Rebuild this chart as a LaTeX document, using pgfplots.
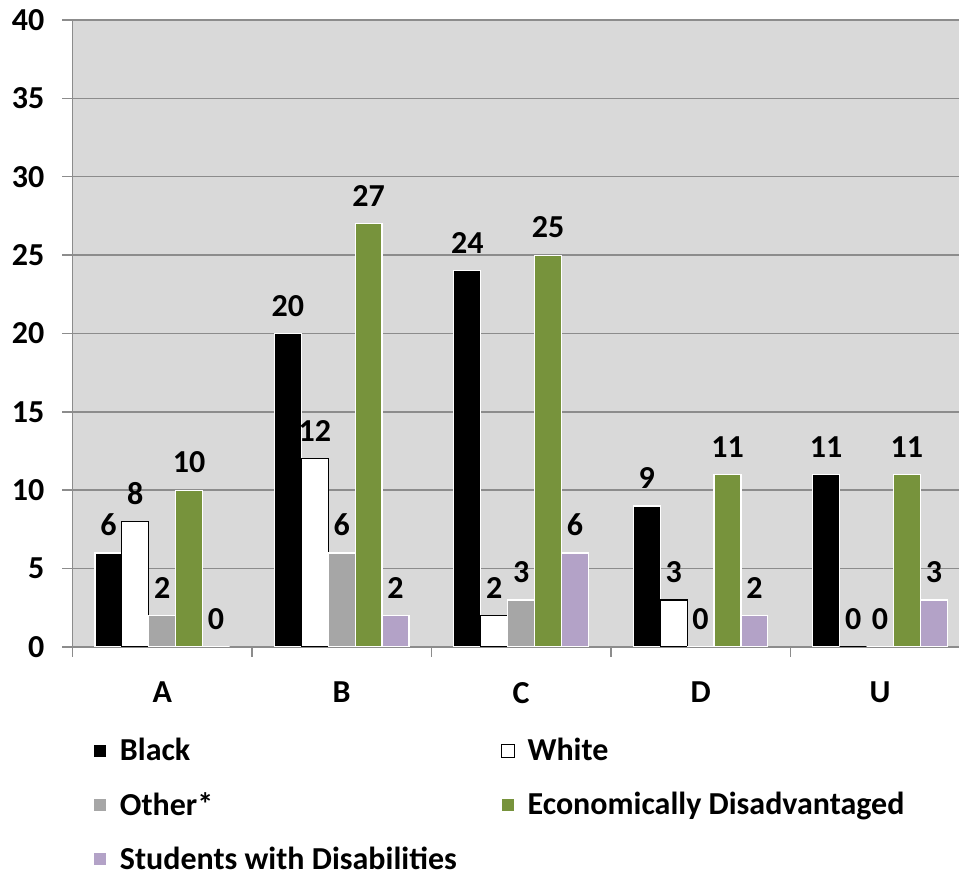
\documentclass[border=0pt]{standalone}
\usepackage{pgfplots}
\pgfplotsset{compat=1.18}
\usepackage{fontspec}
\setmainfont{Carlito}
\definecolor{bgc}{HTML}{D9D9D9}
\definecolor{gridc}{HTML}{8C8C8C}
\definecolor{otherc}{HTML}{A6A6A6}
\definecolor{econc}{HTML}{77933C}
\definecolor{swdc}{HTML}{B3A2C7}
\begin{document}
\begin{tikzpicture}[font=\fontsize{16}{19}\selectfont\bfseries]
\begin{axis}[
  name=ax,
  scale only axis,
  width=443.25pt, height=313.5pt,
  xmin=-0.5, xmax=4.44,
  ymin=0, ymax=40,
  ytick={0,5,...,40},
  axis x line*=bottom, axis y line*=left,
  axis line style={draw=gridc, line width=0.75pt},
  axis background/.style={fill=bgc},
  ymajorgrids,
  major grid style={draw=gridc, line width=0.75pt},
  tick align=outside,
  major tick length=5pt,
  tick style={draw=gridc, line width=0.75pt},
  xtick={-0.5,0.5,1.5,2.5,3.5},
  xticklabels={},
  extra x ticks={0,1,2,3,4},
  extra x tick labels={A,B,C,D,U},
  extra x tick style={major tick length=0pt, tick label style={yshift=-14pt}},
  /pgf/number format/assume math mode=true,
  yticklabel style={font=\fontsize{16}{19}\selectfont\bfseries, xshift=-5.5pt},
  xticklabel style={font=\fontsize{16}{19}\selectfont\bfseries},
  ybar=0pt,
  bar width=0.15,
  nodes near coords,
  every node near coord/.append style={font=\fontsize{16}{19}\selectfont\bfseries, yshift=5pt},
  legend columns=2,
  legend cell align=left,
  legend style={draw=none, fill=none, at={(axis description cs:0.0161,-0.1320)}, anchor=north west,
    font=\fontsize{16}{19}\selectfont\bfseries,
    column sep=0pt,
    /tikz/every odd column/.append style={column sep=4.5pt},
    /tikz/every even column/.append style={column sep=20pt},
    row sep=10.25pt},
  legend image code/.code={\draw[#1, line width=0.4pt] (0pt,-3.25pt) rectangle (6.5pt,3.25pt);},
]
\addplot[fill=black, draw=white, line width=0.6pt] coordinates {(0,6) (1,20) (2,24) (3,9) (4,11)};
\addplot[fill=white, draw=black, line width=0.6pt] coordinates {(0,8) (1,12) (2,2) (3,3) (4,0)};
\addplot[fill=otherc, draw=white, line width=0.6pt] coordinates {(0,2) (1,6) (2,3) (3,0) (4,0)};
\addplot[fill=econc, draw=white, line width=0.6pt] coordinates {(0,10) (1,27) (2,25) (3,11) (4,11)};
\addplot[fill=swdc, draw=white, line width=0.6pt] coordinates {(0,0) (1,2) (2,6) (3,2) (4,3)};
\legend{Black, White, Other*, Economically Disadvantaged, Students with Disabilities}
\end{axis}
\pgfresetboundingbox
\path[use as bounding box] ([xshift=-36.25pt,yshift=10pt]ax.north west) rectangle ++(479.5pt,-437pt);
\end{tikzpicture}
\end{document}
